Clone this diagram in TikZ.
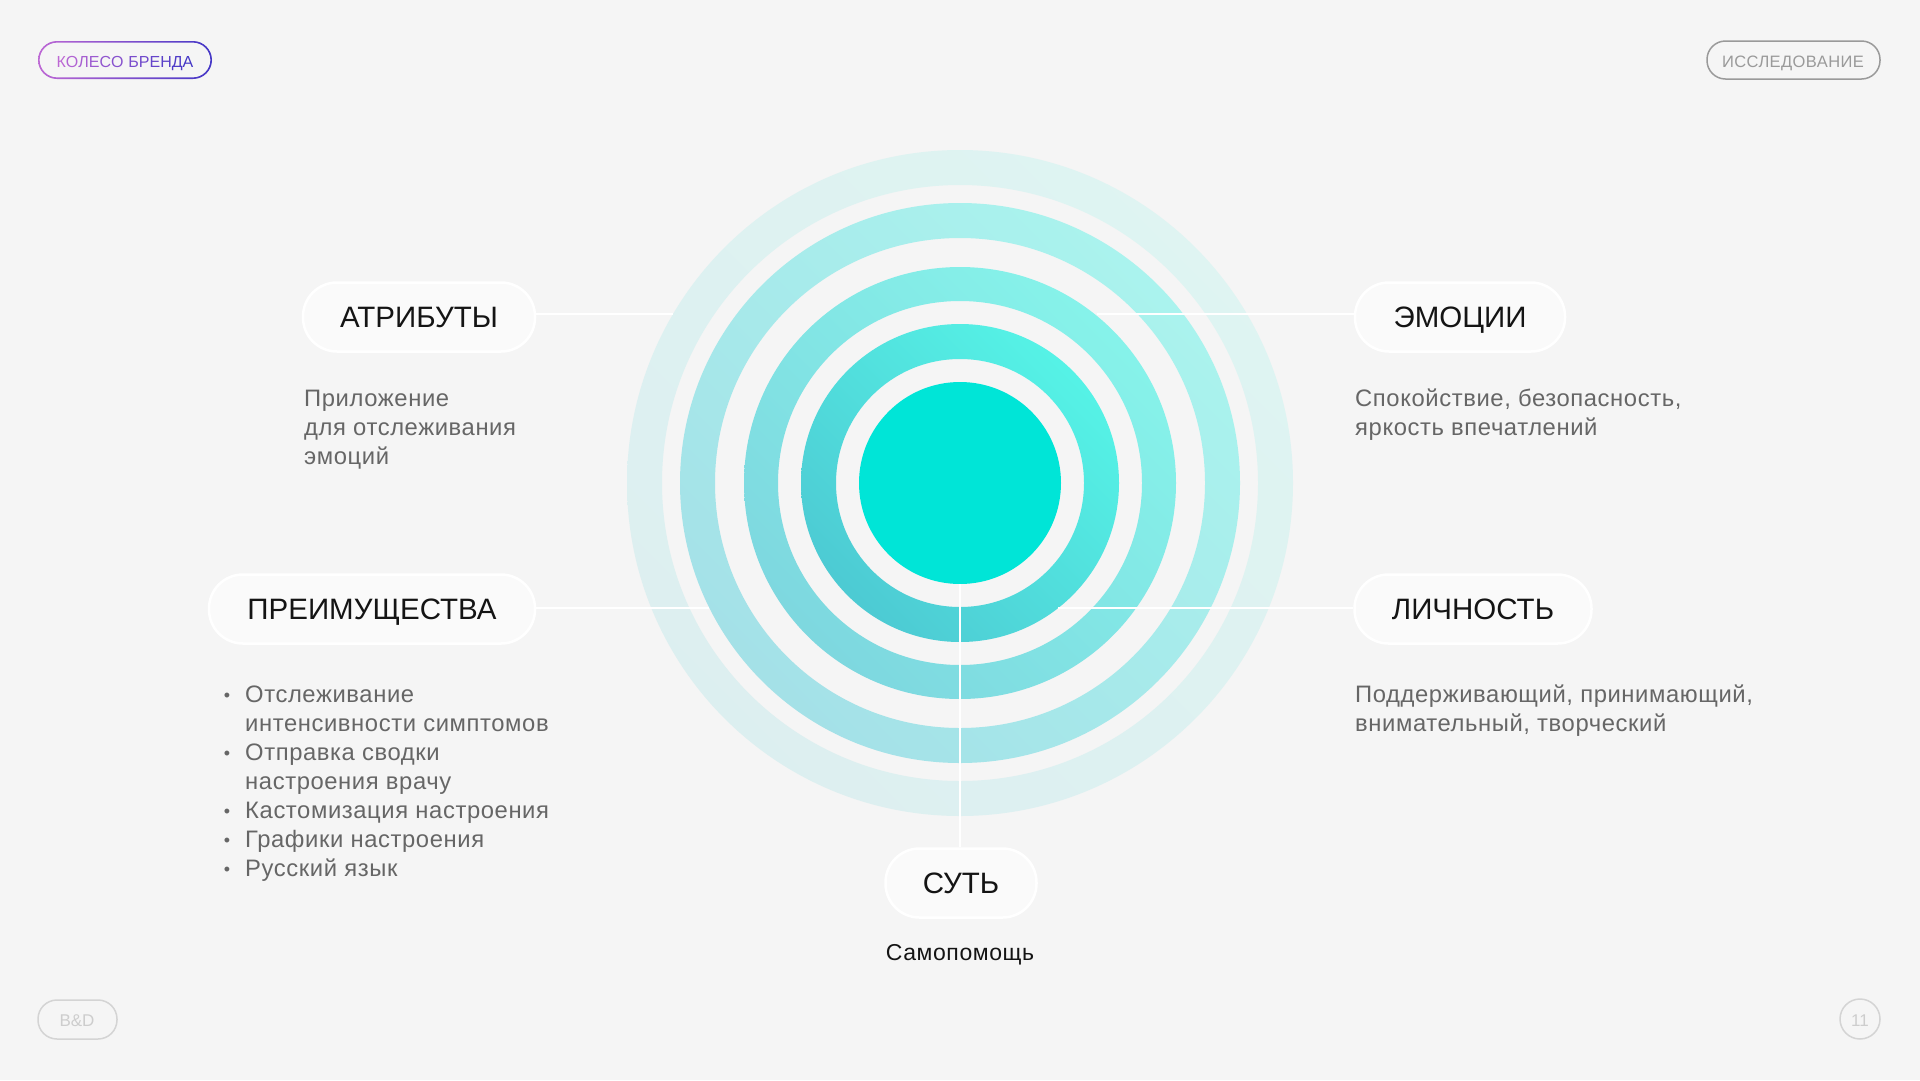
\documentclass[tikz,border=0pt]{standalone}
\usepackage{fontspec}
\usetikzlibrary{shadings}
\setmainfont{Liberation Sans}
\newfontfamily\bodyfont[LetterSpace=2.5]{Liberation Sans}
\definecolor{bg}{HTML}{F5F5F5}
\definecolor{pillfill}{HTML}{FAFAFA}
\definecolor{ink}{HTML}{141414}
\definecolor{bodygray}{HTML}{666666}
\definecolor{core}{HTML}{00E5D7}
\definecolor{ra1}{HTML}{57FBEA}
\definecolor{rb1}{HTML}{4BC2CF}
\definecolor{ra2}{HTML}{88F8EC}
\definecolor{rb2}{HTML}{7CD2DD}
\definecolor{ra3}{HTML}{ABF7EF}
\definecolor{rb3}{HTML}{A3DDE6}
\definecolor{ra4}{HTML}{DFF5F2}
\definecolor{rb4}{HTML}{DCEEF0}
\definecolor{gA}{HTML}{BD68D4}
\definecolor{gB}{HTML}{4437C6}
\definecolor{badgegray}{HTML}{9A9A9A}
\definecolor{faint}{HTML}{D4D4D4}
\definecolor{fainttext}{HTML}{CDCDCD}
\tikzset{
  pill/.style={draw=white, line width=2.5pt, fill=pillfill, rounded corners=34pt,
    minimum height=69pt, inner sep=0pt, text=ink, text height=21pt, text depth=0pt,
    font=\fontsize{29.5}{36}\selectfont},
  body/.style={inner sep=0pt, anchor=base west, text=bodygray, font=\bodyfont\fontsize{23.8}{28}\selectfont},
  bul/.style={inner sep=0pt, anchor=base, text=bodygray, font=\fontsize{18}{22}\selectfont},
  link/.style={draw=white, line width=2.5pt},
}
\begin{document}
\begin{tikzpicture}[x=1pt,y=-1pt]
\fill[bg] (0,0) rectangle (1920,1080);
\useasboundingbox (0,0) rectangle (1920,1080);
\coordinate (c) at (960,483);
% rings
\shade[even odd rule, upper right=ra4, lower left=rb4, upper left=ra4!50!rb4, lower right=ra4!50!rb4] (c) circle (333pt) (c) circle (298pt);
\shade[even odd rule, upper right=ra3, lower left=rb3, upper left=ra3!50!rb3, lower right=ra3!50!rb3] (c) circle (280pt) (c) circle (245pt);
\shade[even odd rule, upper right=ra2, lower left=rb2, upper left=ra2!50!rb2, lower right=ra2!50!rb2] (c) circle (216pt) (c) circle (182pt);
\shade[even odd rule, upper right=ra1, lower left=rb1, upper left=ra1!50!rb1, lower right=ra1!50!rb1] (c) circle (159pt) (c) circle (124pt);
\fill[core] (c) circle (101pt);
% pills
\node[pill, minimum width=232pt] (atr) at (419,317) {АТРИБУТЫ};
\node[pill, minimum width=210pt] (emo) at (1460,317) {ЭМОЦИИ};
\node[pill, minimum width=326pt] (pre) at (372,609) {ПРЕИМУЩЕСТВА};
\node[pill, minimum width=237pt] (lic) at (1473,609) {ЛИЧНОСТЬ};
\node[pill, minimum width=151pt] (sut) at (961,883) {СУТЬ};
% connector ends
\coordinate (a1) at (673,314);
\coordinate (e1) at (1097,314);
\coordinate (p1) at (709,608);
\coordinate (l1) at (1058,608);
\coordinate (s1) at (960,584);
\draw[link] ([yshift=3pt]atr.east) -- (a1);
\draw[link] (e1) -- ([yshift=3pt]emo.west);
\draw[link] ([yshift=1pt]pre.east) -- (p1);
\draw[link] (l1) -- ([yshift=1pt]lic.west);
\draw[link] (s1) -- (sut.north -| s1);
% texts
\node[body] (t1) at (304,406) {Приложение};
\node[body] (t2) at (304,435) {для отслеживания};
\node[body] (t3) at (304,464) {эмоций};
\node[body] (e1t) at (1355,406) {Спокойствие, безопасность,};
\node[body] (e2t) at (1355,435) {яркость впечатлений};
\node[body] (b1) at (245,702) {Отслеживание};
\node[body] (b2) at (245,731) {интенсивности симптомов};
\node[body] (b3) at (245,760) {Отправка сводки};
\node[body] (b4) at (245,789) {настроения врачу};
\node[body] (b5) at (245,818) {Кастомизация настроения};
\node[body] (b6) at (245,847) {Графики настроения};
\node[body] (b7) at (245,876) {Русский язык};
\node[bul] (d1) at (227,701) {•};
\node[bul] (d3) at (227,759) {•};
\node[bul] (d5) at (227,817) {•};
\node[bul] (d6) at (227,846) {•};
\node[bul] (d7) at (227,875) {•};
\node[body] (l1t) at (1355,702) {Поддерживающий, принимающий,};
\node[body] (l2t) at (1355,731) {внимательный, творческий};
\node[inner sep=0pt, anchor=base, text=ink, font=\bodyfont\fontsize{23}{26}\selectfont] (sam) at (960,960) {Самопомощь};
% badges
\shade[even odd rule, left color=gA, right color=gB]
  [rounded corners=19pt] (38,41) rectangle (212,79)
  [rounded corners=17.5pt] (39.6,42.6) rectangle (210.4,77.4);
\node[inner sep=0pt, anchor=base, font=\bodyfont\fontsize{16}{18}\selectfont] (kb) at (125,67.5)
 {\textcolor{gA}{К}\textcolor{gB!9!gA}{О}\textcolor{gB!18!gA}{Л}\textcolor{gB!27!gA}{Е}\textcolor{gB!36!gA}{С}\textcolor{gB!45!gA}{О} \textcolor{gB!55!gA}{Б}\textcolor{gB!64!gA}{Р}\textcolor{gB!73!gA}{Е}\textcolor{gB!82!gA}{Н}\textcolor{gB!91!gA}{Д}\textcolor{gB}{А}};
\draw[badgegray, line width=1.5pt, rounded corners=18.5pt] (1707,41) rectangle (1880,79);
\node[inner sep=0pt, anchor=base, text=badgegray, font=\bodyfont\fontsize{16.5}{19}\selectfont] (res) at (1793,67.3) {ИССЛЕДОВАНИЕ};
\draw[faint, line width=1.5pt, rounded corners=19pt] (38,1000) rectangle (117,1039);
\node[inner sep=0pt, anchor=base, text=fainttext, font=\fontsize{17}{20}\selectfont] (bd) at (77,1026.7) {B\&D};
\draw[faint, line width=1.5pt] (1860,1019) circle (20pt);
\node[inner sep=0pt, anchor=base, text=fainttext, font=\fontsize{17}{20}\selectfont] (pg) at (1860,1026.7) {11};
\end{tikzpicture}
\end{document}
